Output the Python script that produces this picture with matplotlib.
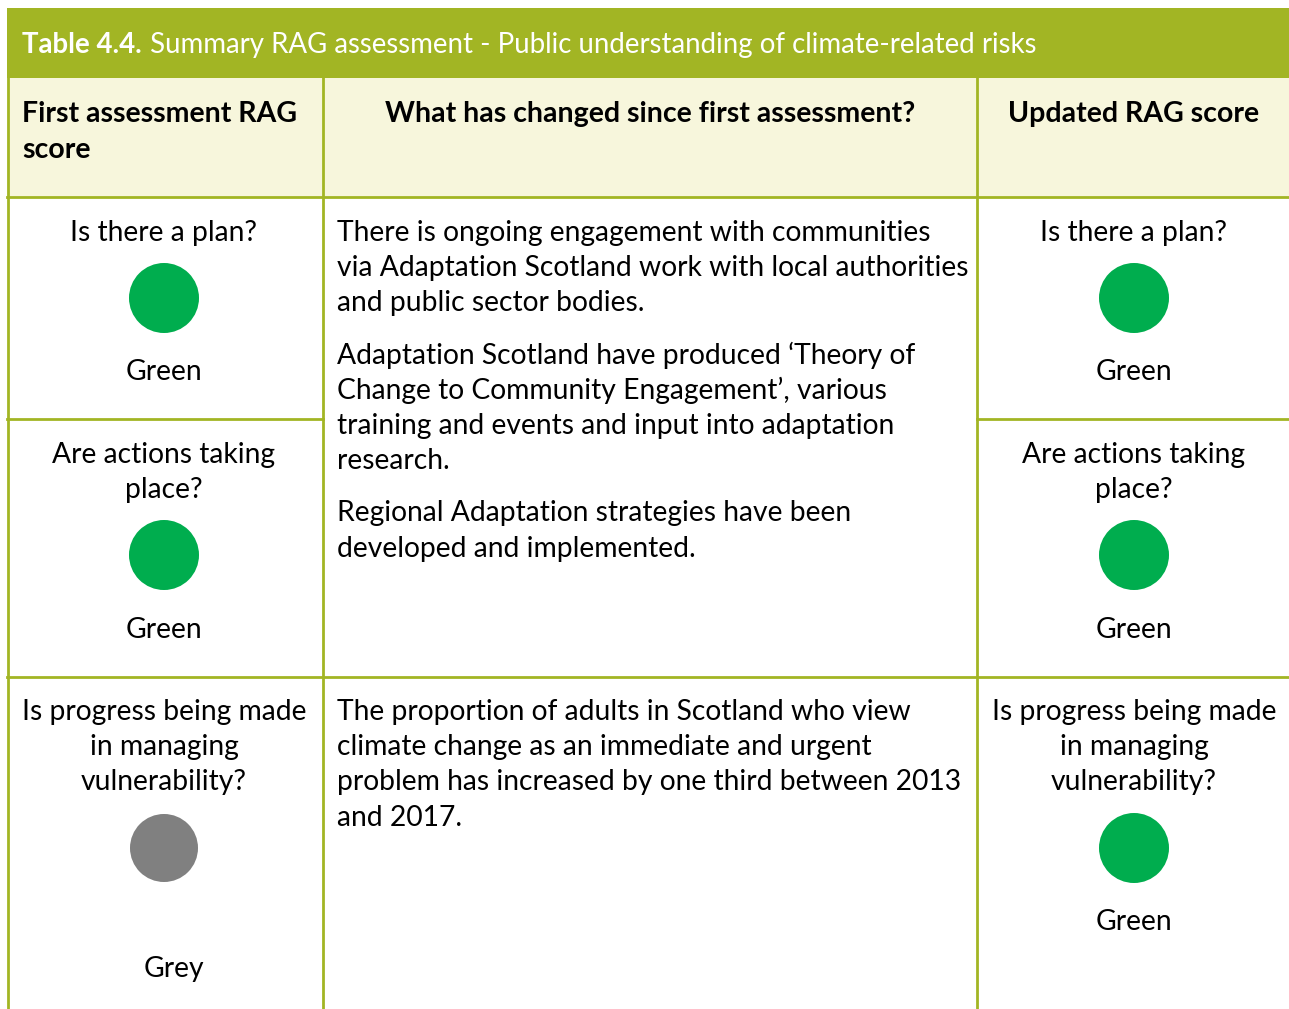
import matplotlib.pyplot as plt
from matplotlib.patches import Rectangle, Circle

plt.rcParams['font.family'] = ['Lato', 'DejaVu Sans']

# table content
title_bold = 'Table 4.4.'
title_rest = ' Summary RAG assessment - Public understanding of climate-related risks'
headers = [['First assessment RAG', 'score'],
           ['What has changed since first assessment?'],
           ['Updated RAG score']]
questions = [['Is there a plan?'],
             ['Are actions taking', 'place?'],
             ['Is progress being made', 'in managing', 'vulnerability?']]
first_scores = ['Green', 'Green', 'Grey']
updated_scores = ['Green', 'Green', 'Green']
changes_top = [
    ['There is ongoing engagement with communities',
     'via Adaptation Scotland work with local authorities',
     'and public sector bodies.'],
    ['Adaptation Scotland have produced \u2018Theory of',
     'Change to Community Engagement\u2019, various',
     'training and events and input into adaptation',
     'research.'],
    ['Regional Adaptation strategies have been',
     'developed and implemented.'],
]
changes_bottom = [
    ['The proportion of adults in Scotland who view',
     'climate change as an immediate and urgent',
     'problem has increased by one third between 2013',
     'and 2017.'],
]

score_colors = {'Green': '#00AD4E', 'Grey': '#808080'}
band = '#A2B524'
cream = '#F7F6DC'
fs = 20.3
hfs = 20.5
lh = 35.2
dy = 2

fig = plt.figure(figsize=(12.89, 10.09), dpi=100)
ax = fig.add_axes([0, 0, 1, 1])
ax.set_xlim(0, 1289)
ax.set_ylim(1009, 0)
ax.axis('off')

# title band and header fill
ax.add_patch(Rectangle((7, 8), 1282, 70, color=band, lw=0))
ax.add_patch(Rectangle((7, 78), 1282, 119, color=cream, lw=0))
t = ax.text(22, 45, title_bold, color='white', fontsize=19.9, fontweight='bold', va='center')
fig.canvas.draw()
bb = t.get_window_extent()
ax.text(bb.x1 + 1, 45, title_rest, color='white', fontsize=19.9, va='center')

# grid lines
lc = band
lw = 2
for x in [8, 323, 977]:
    ax.plot([x, x], [78, 1009], color=lc, lw=lw)
ax.plot([7, 1289], [197, 197], color=lc, lw=lw)
ax.plot([7, 1289], [677, 677], color=lc, lw=lw)
ax.plot([7, 323], [419, 419], color=lc, lw=lw)
ax.plot([977, 1289], [419, 419], color=lc, lw=lw)

# headers
for j, line in enumerate(headers[0]):
    ax.text(22, 112 + dy + j * 36, line, fontsize=hfs, fontweight='bold', va='center', ha='left')
ax.text(650, 112 + dy, headers[1][0], fontsize=hfs, fontweight='bold', va='center', ha='center')
ax.text(1134, 112 + dy, headers[2][0], fontsize=hfs, fontweight='bold', va='center', ha='center')

# score columns
q_top = [231, 453, 710]
circ_y = [298, 555, 848]
label_y = [[370, 628, 967], [370, 628, 920]]
label_x = [[164, 164, 174], [1134, 1134, 1134]]
for c, (cx, scores) in enumerate([(164, first_scores), (1134, updated_scores)]):
    for i, q in enumerate(questions):
        for j, line in enumerate(q):
            ax.text(cx, q_top[i] + dy + j * lh, line, fontsize=fs, ha='center', va='center')
        s = scores[i]
        r = 34 if s == 'Grey' else 35
        ax.add_patch(Circle((cx, circ_y[i]), r, color=score_colors[s], lw=0))
        ax.text(label_x[c][i], label_y[c][i] + dy, s, fontsize=fs, ha='center', va='center')

# middle column paragraphs
y = 231
for para in changes_top:
    for line in para:
        ax.text(337, y + dy, line, fontsize=fs, ha='left', va='center')
        y += lh
    y += 17
y = 710
for para in changes_bottom:
    for line in para:
        ax.text(337, y + dy, line, fontsize=fs, ha='left', va='center')
        y += lh

fig.savefig('out.png', dpi=100)
